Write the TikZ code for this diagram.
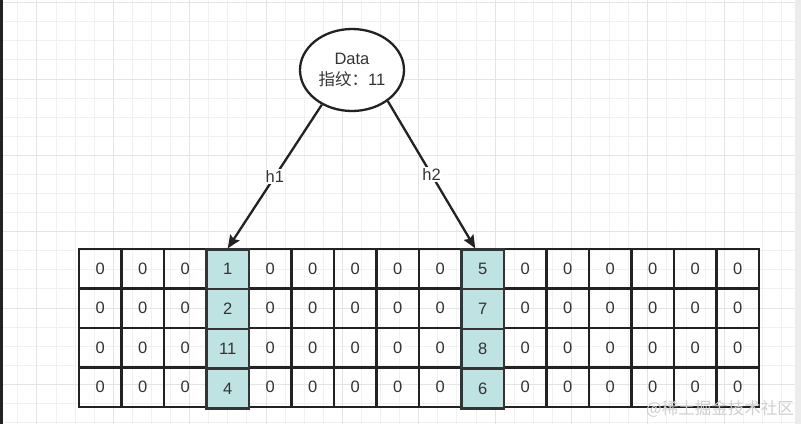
\documentclass[tikz,border=0pt]{standalone}
\usepackage{fontspec}
\setmainfont{Liberation Sans}
\newfontfamily\cjk{Noto Sans CJK SC}
\usetikzlibrary{arrows.meta,shapes.geometric}
\definecolor{gridminor}{HTML}{F1F1F1}
\definecolor{gridmajor}{HTML}{E4E4E4}
\definecolor{hl}{HTML}{BFE3E3}
\definecolor{ink}{HTML}{222222}
\definecolor{txt}{HTML}{333333}
\definecolor{wm}{HTML}{CFCFCF}
\tikzset{
  cell/.style={draw=ink, line width=2.3pt, rectangle, minimum width=42.5pt, minimum height=39.5pt,
    inner sep=0pt, text=txt, font=\fontsize{16.5}{19}\selectfont},
  hlcell/.style={cell, fill=hl, draw=ink!90!hl},
  dataell/.style={draw=ink, line width=2.3pt, ellipse, minimum width=104pt, minimum height=82pt,
    inner sep=0pt, fill=white, align=center, text=txt, font=\fontsize{16.5}{21}\selectfont},
  arr/.style={draw=ink, line width=2.3pt, -{Stealth[length=13pt,width=11pt,inset=2pt]}},
  lbl/.style={fill=white, text=txt, inner sep=1.5pt, font=\fontsize{16.5}{19}\selectfont},
}
\begin{document}
\begin{tikzpicture}[x=1pt,y=-1pt]
\useasboundingbox (0,0) rectangle (801,424);
\fill[white] (0,0) rectangle (801,424);
% background grid
\foreach \i in {-6,...,36} {
  \pgfmathsetmacro\xx{113.3+19.09*\i}
  \draw[gridminor, line width=1pt] (\xx,0) -- (\xx,424);
}
\foreach \j in {-5,...,18} {
  \pgfmathsetmacro\yy{79+19.09*\j}
  \draw[gridminor, line width=1pt] (0,\yy) -- (801,\yy);
}
\foreach \i in {-1,...,9} {
  \pgfmathsetmacro\xx{113.3+76.36*\i}
  \draw[gridmajor, line width=1pt] (\xx,0) -- (\xx,424);
}
\foreach \j in {-1,...,4} {
  \pgfmathsetmacro\yy{79+76.36*\j}
  \draw[gridmajor, line width=1pt] (0,\yy) -- (801,\yy);
}
\fill[ink] (0,0) rectangle (3,424);
\fill[gray!15] (795,0) rectangle (801,424);
% table of zeros
\foreach \r in {1,...,4} {
  \foreach \c in {1,2,3,5,6,7,8,9,11,12,13,14,15,16} {
    \node[cell] (c-\r-\c) at ({79+42.5*(\c-0.5)}, {268.75+39.5*(\r-1)}) {0};
  }
}
% highlighted columns
\foreach \r/\a/\b in {1/1/5, 2/2/7, 3/11/8, 4/4/6} {
  \node[hlcell] (c-\r-4) at ({79+42.5*3.5}, {269.25+39.8*(\r-1)}) {\a};
  \node[hlcell] (c-\r-10) at ({79+42.5*9.5}, {269.25+39.8*(\r-1)}) {\b};
}
% data ellipse
\node[dataell] (e) at (352,70) {Data\\{\cjk 指纹：}11};
% arrows
\coordinate (t2) at ([xshift=-7.5pt]c-1-10.north);
\draw[arr] (e.229.5) -- node[lbl] {h1} (c-1-4.north);
\draw[arr] (e.319) -- node[lbl] {h2} (t2);
% watermark
\node[text=wm, font=\cjk\fontsize{16.5}{18}\selectfont, anchor=east, inner sep=0pt] (w) at (794,409) {@稀土掘金技术社区};
\end{tikzpicture}
\end{document}
